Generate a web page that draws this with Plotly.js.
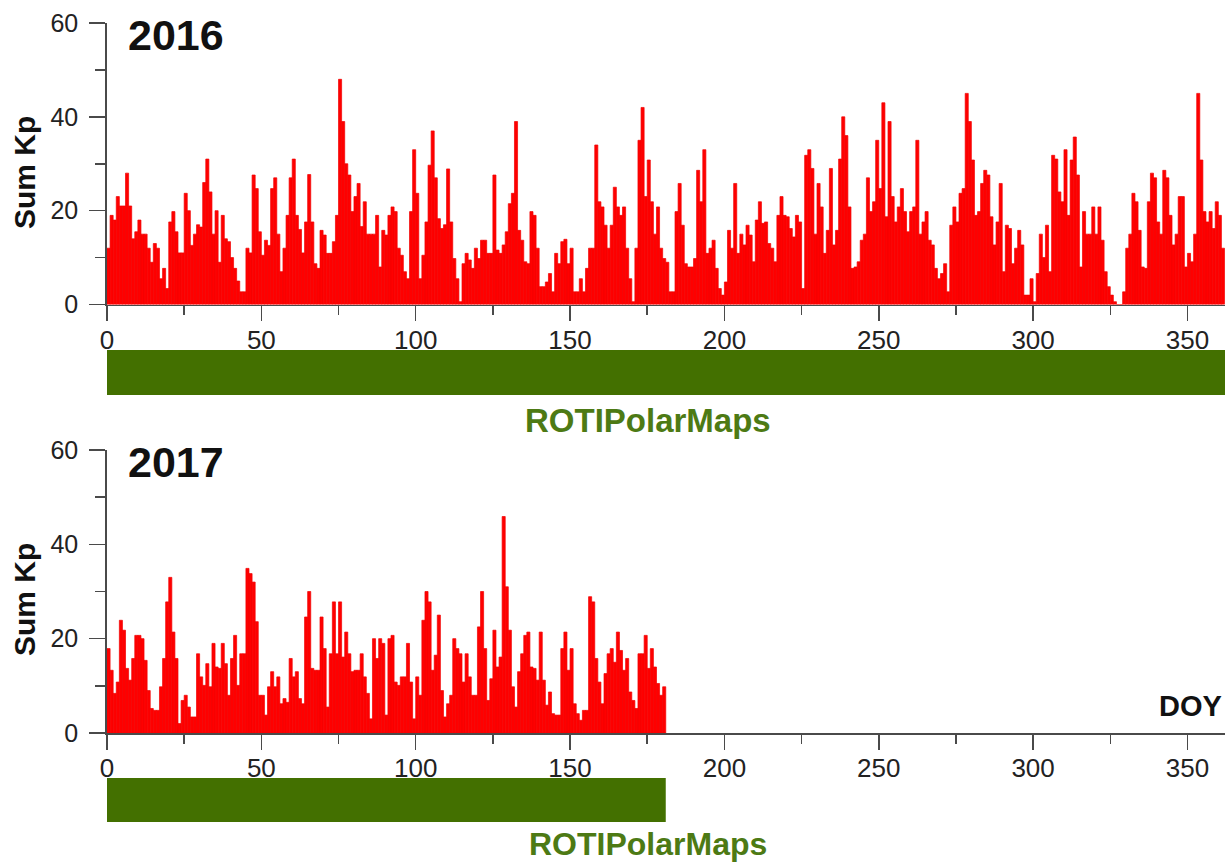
<!DOCTYPE html>
<html>
<head>
<meta charset="utf-8">
<script src="https://cdn.plot.ly/plotly-3.0.1.min.js"></script>
<style>
  html, body { margin: 0; padding: 0; background: #ffffff; }
  #chart { width: 1225px; height: 864px; }
</style>
</head>
<body>
<div id="chart"></div>
<script>
// ---- Data (daily Sum Kp) ----
const sumKp2016 = [
  12,19,18,23,21,21,28,21,14,15.5,
  18,15,15,12,9,13,12,5.5,7.7,3.4,
  17.6,19.8,15.5,11,11,23.7,20,12.6,15,17,
  16.5,26,31,24,15,20,9,19,14,13.4,
  10,7.7,5,2.7,2.7,12,11,27.6,24.7,15.5,
  10.5,13.7,12.6,24.7,27,15,7,12,19,27,
  31,19,16,11,17.6,27.7,17.6,8.7,7.7,15.8,
  14.8,10.9,10.9,13.4,19,48,39,30,27.6,19.8,
  23,25.8,16.6,21.9,15,15,15,19,8,15.8,
  14.8,19,20.8,19.8,12,10.5,7,5.5,19.8,33,
  23.7,5.5,10.5,17.6,29.7,37,27,18.3,16.2,17,
  28.9,17.6,9.8,5.5,0.6,8.7,10.9,9.5,7.7,12,
  9.8,13.7,13.7,10.9,10.9,27.6,11.6,10.9,12.7,15.5,
  21.5,23.7,39,15.8,13.7,9.1,8.7,19.8,19,12,
  3.8,3.8,4.8,6.6,2.7,10.9,8.7,13.4,13.9,8.7,
  12,2.7,2.7,5.5,2.7,7.7,12,12,34,21.9,
  20.8,16.9,12,16.9,25,20.8,19,20.8,12,5.5,
  0.6,12,35,42,23,30.8,21.9,15,20.8,12,
  9.8,9,2.7,2.7,19.8,25.8,16.9,8.7,8,8,
  9.8,28.6,21.9,33,10.9,12,13.7,7.7,3.4,2,
  4.8,15.8,12,25.8,10.9,15,12.7,16.9,14.8,9.1,
  18,21.9,17.3,17.6,13,12,9.1,19,23,19,
  18.7,16.2,14.4,19,17.6,3.4,31.8,33,29,15,
  25.8,20.8,10.9,15.8,29,12.7,15.8,31,40,36,
  20.8,7.7,8,9.1,13.7,15,27,19.8,21.9,35,
  24.7,43,18.7,39,23,17.6,20.8,24.7,19.8,15.5,
  19.8,20.8,35,15,17.6,19.8,13.7,12.7,7.7,5.5,
  6.6,8.7,2.7,16.9,20.8,17.6,23.7,24.7,45,39,
  30.8,19,19.8,25.8,28.6,27.6,18.7,12.7,17.6,25.8,
  7,16.9,16.2,8.7,12,15.8,12.7,2,2,5.5,
  0.6,6.6,15,10,16.9,7,31.8,31,24,21.9,
  33,19,30.8,35.7,27.6,8,19.8,15,15,20.8,
  15,20.8,13.7,7,3.8,2,0.6,0,0,2.7,
  12,15,23.7,21.9,15.8,8,7.7,21.9,28,27,
  17.6,15,28.6,27,19,12.7,15,23,23,8,
  10.9,9.1,15,45,30.8,19.8,17.6,19.8,16.2,21.9,
  19,12
];
const sumKp2017 = [
  17.9,13.3,8.4,10.8,23.9,21.8,13.7,11.2,15.8,20.7,
  20.7,20,15.4,9,5.2,4.8,4.8,9.8,15.8,27.8,
  33,21.4,15.8,2,6.9,8,5.5,3.4,3.4,16.8,
  11.9,10.1,14.7,9.8,19,14,13.7,19,14.7,8,
  15.8,20.7,10.1,16.8,16.8,34.9,33.8,32,23.6,8,
  8,3.8,9.8,13,9.8,11.9,6.2,7.3,6.5,15.8,
  11.9,13,7.3,6.2,24.6,30,13.7,13.3,13.3,24.6,
  17.9,5.5,16.8,27.8,16.8,27.8,16.1,21.4,16.8,13,
  13.3,13.3,16.8,11.9,8.4,3,20,15.8,20,19,
  3.8,20,20.7,10.8,10.1,11.9,11.9,19,10.8,3,
  11.9,8,23.9,30,27.8,13.3,16.5,25,9,3.4,
  6.2,8,20,17.9,16.8,10.8,16.8,11.9,8,8,
  22.5,30,17.9,6.9,11.5,21.8,14,16.1,45.9,31,
  21.8,9.8,5.5,13,16.8,20.7,21.4,14,13.7,11.2,
  21.4,11.2,5.9,8.7,4.1,3.8,3.8,17.9,21.4,13.3,
  17.9,6.2,4.1,2.7,4.8,4.8,28.9,27.8,15.8,10.8,
  6.2,12.6,16.8,17.9,15,21.4,17.5,13.3,15.8,8.7,
  6.9,5.2,16.8,16.8,20.7,13.7,17.9,14,10.5,8,9.8
];
// ROTI polar map coverage periods (DOY start, end)
const coverage2016 = [0, 366];
const coverage2017 = [0, 181];
const yearLabels = ['2016', '2017'];
const coverageLabel = 'ROTIPolarMaps';
const yTitle = 'Sum Kp';
const xTitle = 'DOY';

// day index for each value (bar spans [day, day+1])
const days2016 = sumKp2016.map((_, i) => i);
const days2017 = sumKp2017.map((_, i) => i);

const W = 1225, H = 864;
const px = v => v / W;
const py = v => (H - v) / H;

const FONT = 'Liberation Sans, Arial, Helvetica, sans-serif';
const AXC = '#4a4a4a';
const RED = '#ff0000';
const GREEN = '#437000';
const GREEN_TXT = '#4d7a14';

const barTrace = (x, y, xa, ya) => ({
  type: 'bar', x: x, y: y, xaxis: xa, yaxis: ya,
  width: 1, offset: 0,
  marker: { color: RED, line: { width: 0.7, color: '#f00000' } },
  hoverinfo: 'x+y', showlegend: false
});

const xRange = [0, (W - 107) / 3.087];

const xAxisBase = (anchor) => ({
  domain: [px(107), 1], range: xRange, anchor: anchor,
  tickmode: 'linear', tick0: 0, dtick: 50,
  ticks: 'outside', ticklen: 15, tickwidth: 1.5, tickcolor: AXC,
  showline: true, linecolor: AXC, linewidth: 1.8,
  showgrid: false, zeroline: false,
  ticklabelstandoff: -4,
  tickfont: { family: FONT, size: 26, color: '#222' },
  minor: { dtick: 25, tick0: 0, ticks: 'outside', ticklen: 9, tickwidth: 1.5, tickcolor: AXC, showgrid: false },
  fixedrange: true
});
const yAxisBase = (anchor, dom) => ({
  domain: dom, range: [0, 60], anchor: anchor,
  tickmode: 'linear', tick0: 0, dtick: 20,
  ticks: 'outside', ticklen: 16, tickwidth: 1.5, tickcolor: AXC,
  showline: true, linecolor: AXC, linewidth: 1.8,
  showgrid: false, zeroline: false,
  ticklabelstandoff: 6,
  tickfont: { family: FONT, size: 25, color: '#222' },
  minor: { dtick: 10, tick0: 0, ticks: 'outside', ticklen: 10, tickwidth: 1.5, tickcolor: AXC, showgrid: false },
  fixedrange: true
});

const data = [
  barTrace(days2016, sumKp2016, 'x', 'y'),
  barTrace(days2017, sumKp2017, 'x2', 'y2')
];

const layout = {
  width: W, height: H,
  margin: { l: 0, r: 0, t: 0, b: 0, pad: 0 },
  paper_bgcolor: '#ffffff', plot_bgcolor: 'rgba(0,0,0,0)',
  bargap: 0, showlegend: false,
  font: { family: FONT, color: '#222' },
  xaxis: xAxisBase('y'),
  yaxis: yAxisBase('x', [py(304.5), py(23)]),
  xaxis2: xAxisBase('y2'),
  yaxis2: yAxisBase('x2', [py(733), py(450)]),
  shapes: [
    { type: 'rect', xref: 'x', yref: 'paper', x0: coverage2016[0], x1: coverage2016[1],
      y0: py(395), y1: py(350), fillcolor: GREEN, line: { width: 0 }, layer: 'below' },
    { type: 'rect', xref: 'x2', yref: 'paper', x0: coverage2017[0], x1: coverage2017[1],
      y0: py(822), y1: py(778), fillcolor: GREEN, line: { width: 0 }, layer: 'below' }
  ],
  annotations: [
    { xref: 'paper', yref: 'paper', x: px(126), y: py(35), xanchor: 'left', yanchor: 'middle',
      text: '<b>' + yearLabels[0] + '</b>', showarrow: false, font: { family: FONT, size: 43, color: '#111' } },
    { xref: 'paper', yref: 'paper', x: px(126), y: py(462), xanchor: 'left', yanchor: 'middle',
      text: '<b>' + yearLabels[1] + '</b>', showarrow: false, font: { family: FONT, size: 43, color: '#111' } },
    { xref: 'paper', yref: 'paper', x: px(24), y: py(173), xanchor: 'center', yanchor: 'middle', textangle: -90,
      text: '<b>' + yTitle + '</b>', showarrow: false, font: { family: FONT, size: 30, color: '#111' } },
    { xref: 'paper', yref: 'paper', x: px(24), y: py(600), xanchor: 'center', yanchor: 'middle', textangle: -90,
      text: '<b>' + yTitle + '</b>', showarrow: false, font: { family: FONT, size: 30, color: '#111' } },
    { xref: 'paper', yref: 'paper', x: px(648), y: py(420), xanchor: 'center', yanchor: 'middle',
      text: '<b>' + coverageLabel + '</b>', showarrow: false, font: { family: FONT, size: 33, color: GREEN_TXT } },
    { xref: 'paper', yref: 'paper', x: px(648), y: py(844), xanchor: 'center', yanchor: 'middle',
      text: '<b>' + coverageLabel + '</b>', showarrow: false, font: { family: FONT, size: 32, color: GREEN_TXT } },
    { xref: 'paper', yref: 'paper', x: px(1157), y: py(706), xanchor: 'left', yanchor: 'middle',
      text: '<b>' + xTitle + '</b>', showarrow: false, font: { family: FONT, size: 29, color: '#111' } }
  ]
};

Plotly.newPlot('chart', data, layout, { displayModeBar: false, staticPlot: true });
</script>
</body>
</html>
